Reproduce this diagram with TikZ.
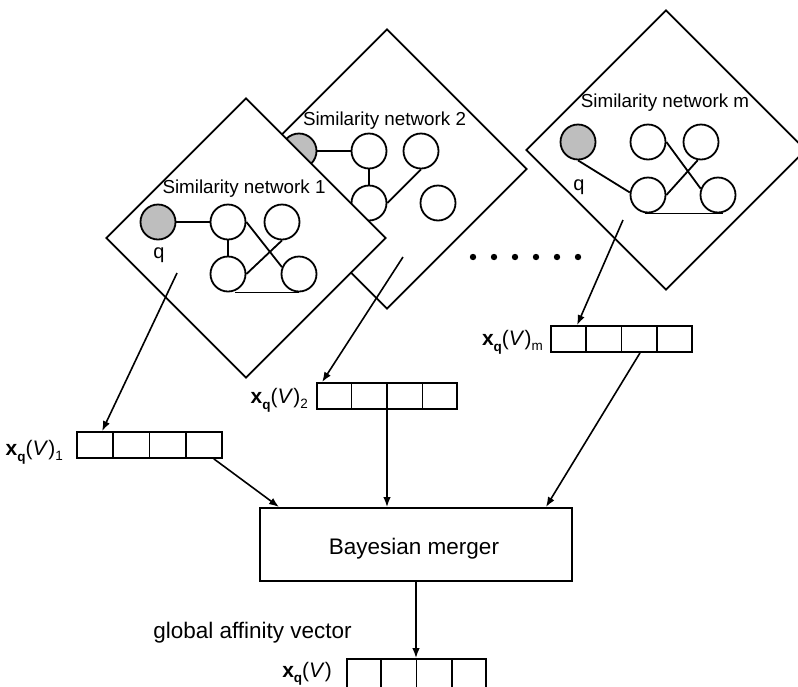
\documentclass[tikz,border=0pt]{standalone}
\usepackage{fontspec}
\setmainfont{Liberation Sans}
\usetikzlibrary{shapes.geometric,arrows.meta,calc}
\definecolor{qgray}{RGB}{190,190,190}
\newcommand\xqlab[1]{\textbf{x}\raisebox{-6pt}{\fontsize{13.5}{15}\selectfont\textbf{q}}(\textit{V})\raisebox{-5pt}{\fontsize{13.5}{15}\selectfont #1}}
\begin{document}
\begin{tikzpicture}[x=1pt,y=-1pt,
  netframe/.style={draw, fill=white, shape=diamond, minimum width=280pt, minimum height=280pt, inner sep=0pt, line width=1.9pt},
  vnode/.style={circle, draw, fill=white, minimum size=35pt, inner sep=0pt, line width=1.8pt},
  qnode/.style={vnode, fill=qgray},
  edge/.style={line width=1.8pt},
  conn/.style={line width=1.6pt, -{Latex[length=10pt,width=7.5pt]}},
  vecbox/.style={draw, line width=1.8pt, minimum height=26pt, inner sep=0pt},
  mergebox/.style={draw, line width=1.9pt, minimum width=312pt, minimum height=73pt, inner sep=0pt},
  nettitle/.style={font=\fontsize{18.8}{22}\selectfont, anchor=base, inner sep=0pt},
  qlabel/.style={font=\fontsize{20}{24}\selectfont, anchor=base, inner sep=0pt},
  veclabel/.style={font=\fontsize{21}{25}\selectfont, anchor=base east, inner sep=0pt},
  bigtext/.style={font=\fontsize{22.5}{27}\selectfont, anchor=base, inner sep=0pt},
  ]
\path[fill=white, use as bounding box] (0,0) rectangle (798,686);

% ---- network 2 (behind network 1)
\node[netframe] (d2) at (387,169) {};
\node[nettitle] (t2) at (384.5,125) {Similarity network 2};
\node[qnode] (q2) at (299,151) {};
\node[vnode] (a2) at (369,151) {};
\node[vnode] (b2) at (421,151) {};
\node[vnode] (c2) at (369,203) {};
\node[vnode] (e2) at (438,203) {};
\draw[edge] (q2) -- (a2);
\draw[edge] (a2) -- (c2);
\draw[edge] (b2.south) -- (c2.east);

% ---- network m
\node[netframe] (dm) at (666,150) {};
\node[nettitle] (tm) at (665,107) {Similarity network m};
\node[qnode] (qm) at (578,142) {};
\node[qlabel] (qml) at (579,190) {q};
\node[vnode] (am) at (648,142) {};
\node[vnode] (bm) at (701,142) {};
\node[vnode] (cm) at (648,195) {};
\node[vnode] (em) at (718,195) {};
\draw[edge] (qm.south) -- (cm.172);
\draw[edge] (am.east) -- (em.160);
\draw[edge] (bm.-100) -- (cm.east);
\draw[edge] ([xshift=-3pt]cm.south) -- ([xshift=5pt]em.south);

% ---- network 1 (front)
\node[netframe] (d1) at (246,238) {};
\node[nettitle] (t1) at (244,193) {Similarity network 1};
\node[qnode] (q1) at (158,222) {};
\node[qlabel] (q1l) at (159,258) {q};
\node[vnode] (a1) at (228,222) {};
\node[vnode] (b1) at (282,222) {};
\node[vnode] (c1) at (228,274) {};
\node[vnode] (e1) at (299,274) {};
\draw[edge] (q1) -- (a1);
\draw[edge] (a1) -- (c1);
\draw[edge] (a1.east) -- (e1.158);
\draw[edge] (b1.south) -- (c1.east);
\draw[edge] ([xshift=7pt]c1.south) -- (e1.south);

% ---- dots
\foreach \xx in {473,494,515,536,557,578} \fill (\xx,257) circle (3.2);

% ---- vectors
\node[vecbox, minimum width=145pt] (v1) at (149.5,445) {};
\node[vecbox, minimum width=140pt] (v2) at (387,396) {};
\node[vecbox, minimum width=141pt] (vm) at (621.5,339) {};
\node[vecbox, minimum width=139pt, minimum height=32pt] (vg) at (416.5,675) {};
\foreach \vv in {v1,v2,vm,vg}
  \foreach \ii in {1,2,3}
    \draw[line width=1.8pt] ($(\vv.north west)!\ii/4!(\vv.north east)$) -- ($(\vv.south west)!\ii/4!(\vv.south east)$);

\node[veclabel] (l1) at (63,455) {\xqlab{1}};
\node[veclabel] (l2) at (308,403) {\xqlab{2}};
\node[veclabel] (lm) at (543,345) {\xqlab{m}};
\node[veclabel] (lg) at (332,677) {\textbf{x}\raisebox{-5pt}{\fontsize{13.5}{15}\selectfont\textbf{q}}(\textit{V})};

% ---- merger
\node[mergebox] (bayes) at (416,544.5) {};
\node[bigtext] (bt) at (414,554) {Bayesian merger};
\node[bigtext] (gt) at (252.5,638) {global affinity vector};

% ---- connectors
\coordinate (s1) at (177,273);
\coordinate (s2) at (403,257);
\coordinate (sm) at (623,220);
\draw[conn] (s1) -- ([xshift=26pt]v1.north west);
\draw[conn] (s2) -- ([xshift=6pt]v2.north west);
\draw[conn] (sm) -- ([xshift=27pt]vm.north west);
\draw[conn] ([xshift=-9pt]v1.south east) -- ([xshift=20pt]bayes.north west);
\draw[conn] (v2.south) -- (v2.south |- bayes.north);
\draw[conn] ([xshift=18.5pt]vm.south) -- ([xshift=-27pt]bayes.north east);
\draw[conn] (bayes.south) -- (bayes.south |- vg.north);
\end{tikzpicture}
\end{document}
